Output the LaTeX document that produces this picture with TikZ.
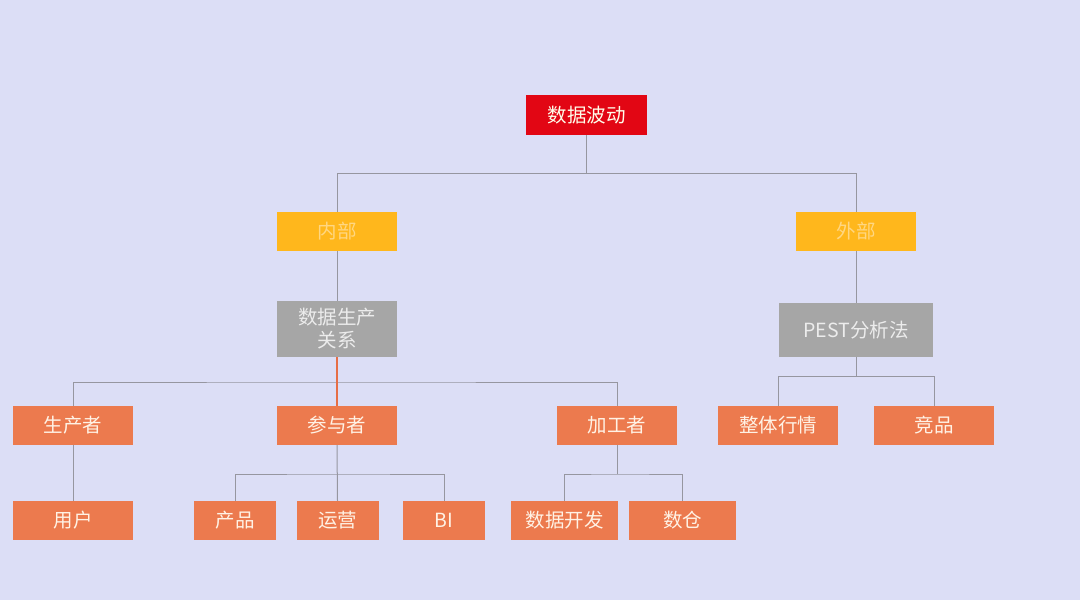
\documentclass[tikz,border=0pt]{standalone}
\usepackage{fontspec}
\newfontfamily\cjk{Noto Sans CJK SC}
\definecolor{bg}{RGB}{220,222,246}
\definecolor{rootred}{RGB}{226,6,20}
\definecolor{ylw}{RGB}{255,183,28}
\definecolor{gry}{RGB}{166,166,166}
\definecolor{org}{RGB}{236,122,78}
\definecolor{lne}{RGB}{150,150,160}
\definecolor{lneo}{RGB}{230,110,70}
\definecolor{ytxt}{RGB}{255,215,130}
\tikzset{
  box/.style={rectangle, inner sep=0pt, align=center, font=\cjk\fontsize{19.5}{23}\selectfont, text=white},
  rootbox/.style={box, fill=rootred, minimum width=121pt, minimum height=40pt, text=white!92!yellow},
  ybox/.style={box, fill=ylw, minimum width=120pt, minimum height=39pt, text=ytxt},
  gbox/.style={box, fill=gry, minimum height=56pt, text=white!85!gray},
  obox/.style={box, fill=org, minimum height=39pt, text=white!90!orange},
  conn/.style={draw=lne, line width=1pt},
  conno/.style={draw=lneo, line width=1.2pt}
}
\begin{document}
\begin{tikzpicture}[x=1pt,y=-1pt]
\fill[bg] (0,0) rectangle (1080,600);
\useasboundingbox (0,0) rectangle (1080,600);
\node[rootbox] (root) at (586.5,115) {数据波动};
\node[ybox] (nb) at (337,231.5) {内部};
\node[ybox] (wb) at (856,231.5) {外部};
\node[gbox, minimum width=120pt] (dp) at (337,329) {数据生产\\关系};
\node[gbox, minimum width=154pt, minimum height=54pt] (pest) at (856,330) {PEST分析法};
\node[obox, minimum width=120pt] (scz) at (73,425.5) {生产者};
\node[obox, minimum width=120pt] (cyz) at (337,425.5) {参与者};
\node[obox, minimum width=120pt] (jgz) at (617,425.5) {加工者};
\node[obox, minimum width=120pt] (zthq) at (778,425.5) {整体行情};
\node[obox, minimum width=120pt] (jp) at (934,425.5) {竞品};
\node[obox, minimum width=120pt] (yh) at (73,520.5) {用户};
\node[obox, minimum width=82pt] (cp) at (235,520.5) {产品};
\node[obox, minimum width=82pt] (yy) at (337.5,520.5) {运营};
\node[obox, minimum width=82pt] (bi) at (444,520.5) {BI};
\node[obox, minimum width=107pt] (sjkf) at (564.5,520.5) {数据开发};
\node[obox, minimum width=107pt] (sc) at (682.5,520.5) {数仓};
\coordinate (b1) at (586.5,173);
\coordinate (b2) at (337,382);
\coordinate (b3) at (856,376);
\coordinate (b4) at (337,474);
\coordinate (b5) at (617,474);
\draw[conn] (root.south) -- (b1) -| (nb.north);
\draw[conn] (b1) -| (wb.north);
\draw[conn] (nb.south) -- (dp.north);
\draw[conn] (wb.south) -- (pest.north);
\draw[conn] (scz.north) |- (b2) -| (jgz.north);
\draw[conno] (dp.south) -- (cyz.north);
\draw[conn] (pest.south) -- (b3) -| (zthq.north);
\draw[conn] (b3) -| (jp.north);
\draw[conn] (scz.south) -- (yh.north);
\draw[conn] (cyz.south) -- (yy.north);
\draw[conn] (cp.north) |- (b4) -| (bi.north);
\draw[conn] (jgz.south) -- (b5);
\draw[conn] (sjkf.north) |- (b5) -| (sc.north);
\end{tikzpicture}
\end{document}
